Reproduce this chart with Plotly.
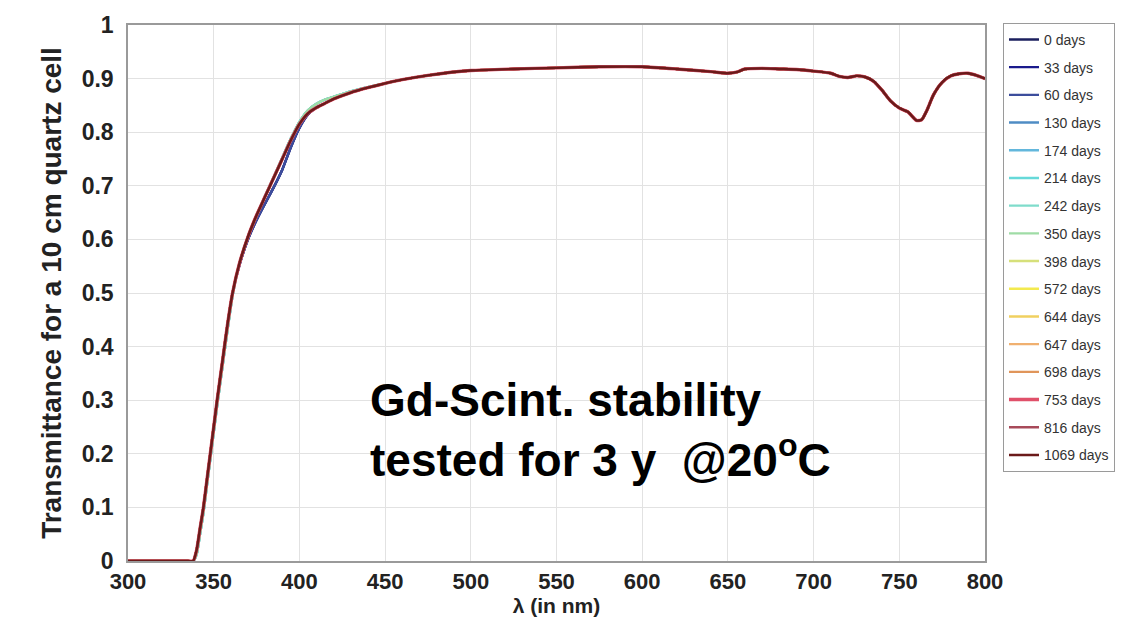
import plotly.graph_objects as go

wavelength = [300, 335, 338, 340, 342, 344, 346, 348, 350, 352, 355, 358, 361, 365, 370,
              375, 380, 385, 390, 395, 400, 405, 410, 415, 420, 430, 440, 450, 460, 475,
              500, 525, 550, 575, 600, 620, 640, 650, 655, 660, 670, 680, 690, 700, 710,
              715, 720, 725, 730, 735, 740, 745, 750, 755, 760, 763, 766, 770, 775, 780,
              785, 790, 795, 800]

trans_late = [0.0, 0.0, 0.0, 0.02, 0.06, 0.10, 0.15, 0.20, 0.25, 0.30, 0.37, 0.44, 0.50, 0.555, 0.605,
              0.645, 0.68, 0.715, 0.75, 0.785, 0.815, 0.835, 0.846, 0.854, 0.862, 0.874, 0.883, 0.891, 0.898, 0.906,
              0.915, 0.918, 0.92, 0.922, 0.922, 0.918, 0.913, 0.91, 0.912, 0.918, 0.919, 0.918, 0.917, 0.914, 0.91,
              0.904, 0.902, 0.905, 0.903, 0.895, 0.878, 0.858, 0.845, 0.838, 0.822, 0.823, 0.84, 0.87, 0.893, 0.905,
              0.909, 0.91, 0.906, 0.9]

trans_early = [0.0, 0.0, 0.0, 0.02, 0.06, 0.10, 0.15, 0.20, 0.25, 0.30, 0.37, 0.44, 0.50, 0.552, 0.600,
               0.636, 0.667, 0.697, 0.730, 0.772, 0.808, 0.833, 0.846, 0.854, 0.862, 0.874, 0.883, 0.891, 0.898, 0.906,
               0.915, 0.918, 0.92, 0.922, 0.922, 0.918, 0.913, 0.91, 0.912, 0.918, 0.919, 0.918, 0.917, 0.914, 0.91,
               0.904, 0.902, 0.905, 0.903, 0.895, 0.878, 0.858, 0.845, 0.838, 0.822, 0.823, 0.84, 0.87, 0.893, 0.905,
               0.909, 0.91, 0.906, 0.9]

trans_mid = [0.0, 0.0, 0.0, 0.012, 0.05, 0.09, 0.14, 0.19, 0.24, 0.29, 0.36, 0.43, 0.495, 0.555, 0.605,
             0.645, 0.681, 0.716, 0.752, 0.788, 0.819, 0.841, 0.853, 0.861, 0.866, 0.876, 0.884, 0.891, 0.898, 0.906,
             0.915, 0.918, 0.92, 0.922, 0.922, 0.918, 0.913, 0.91, 0.912, 0.918, 0.919, 0.918, 0.917, 0.914, 0.91,
             0.904, 0.902, 0.905, 0.903, 0.895, 0.878, 0.858, 0.845, 0.838, 0.822, 0.823, 0.84, 0.87, 0.893, 0.905,
             0.909, 0.91, 0.906, 0.9]

days = ["0 days", "33 days", "60 days", "130 days", "174 days", "214 days", "242 days", "350 days",
        "398 days", "572 days", "644 days", "647 days", "698 days", "753 days", "816 days", "1069 days"]
curve_of = ["early", "early", "early", "mid", "mid", "mid", "mid", "mid",
            "late", "late", "late", "late", "late", "late", "late", "late"]
colors = ["#1b1f5e", "#1a1a8c", "#3c4d9c", "#4f8cc4", "#63b7dc", "#66d9d9", "#7fdccb", "#9fdca6",
          "#d6e07a", "#f3ea4f", "#f0d060", "#f0b070", "#e0955a", "#e0506a", "#a84a5a", "#6b1a1a"]

curves = {"early": trans_early, "mid": trans_mid, "late": trans_late}

fig = go.Figure()
for d, c, col in zip(days, curve_of, colors):
    w = 3.4 if d == "753 days" else 2.4
    fig.add_trace(go.Scatter(x=wavelength, y=curves[c], mode="lines", name=d,
                             line=dict(color=col, width=w, shape="spline", smoothing=0.6),
                             legendgroup=d))

fig.add_annotation(x=440, y=0.245, xref="x", yref="y", xanchor="left", yanchor="middle",
                   text="<b>Gd-Scint. stability<br>tested for 3 y  @20<sup>o</sup>C</b>",
                   showarrow=False, align="left",
                   font=dict(family="Liberation Sans, Arial", size=46, color="#000000"))

axis_common = dict(showline=True, linecolor="#9a9a9a", linewidth=1.5, mirror=True,
                   showgrid=True, gridcolor="#e2e2e2", gridwidth=1, zeroline=False,
                   ticks="")

fig.update_layout(
    width=1139, height=630,
    margin=dict(l=128, r=154, t=21, b=69),
    paper_bgcolor="white", plot_bgcolor="white",
    font=dict(family="Liberation Sans, Arial", color="#222222"),
    xaxis=dict(range=[300, 800], dtick=50, tick0=300,
               tickfont=dict(family="Liberation Sans, Arial", size=22, color="#222222"),
               title=dict(text="<b>λ (in nm)</b>", font=dict(size=21), standoff=5),
               **axis_common),
    yaxis=dict(range=[0, 1], dtick=0.1, tick0=0,
               tickfont=dict(family="Liberation Sans, Arial", size=23, color="#222222"),
               ticklabelstandoff=8,
               title=dict(text="<b>Transmittance for a 10 cm quartz cell</b>", font=dict(size=28), standoff=12),
               **axis_common),
    legend=dict(x=1.021, y=1.004, xanchor="left", yanchor="top",
                bordercolor="#9a9a9a", borderwidth=1, bgcolor="white",
                font=dict(family="Liberation Sans, Arial", size=14, color="#333333"),
                tracegroupgap=6.5, itemwidth=30, maxheight=1.0),
    showlegend=True,
)
fig.update_xaxes(tickprefix="<b>", ticksuffix="</b>")
fig.update_yaxes(tickprefix="<b>", ticksuffix="</b>")

fig.write_html("out.html")
